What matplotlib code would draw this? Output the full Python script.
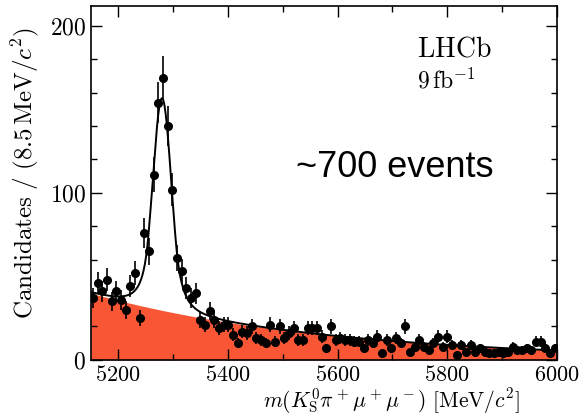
import numpy as np
import matplotlib
matplotlib.use('Agg')
import matplotlib.pyplot as plt
from matplotlib.ticker import MultipleLocator

plt.rcParams['mathtext.fontset'] = 'cm'
plt.rcParams['font.family'] = 'serif'
plt.rcParams['font.serif'] = ['cmr10']
plt.rcParams['axes.formatter.use_mathtext'] = True

# ---- data ----
mass_lo, mass_hi, bin_width = 5150.0, 6000.0, 8.5
counts = [37, 46, 41, 48, 35, 41, 36, 30, 44, 52,
          25, 76, 65, 111, 154, 169, 140, 102, 61, 53,
          43, 37, 40, 24, 21, 29, 24, 19, 21, 21,
          15, 10, 17, 16, 20, 13, 12, 10, 21, 11,
          20, 13, 16, 19, 12, 12, 19, 19, 19, 14,
          7, 20, 12, 13, 12, 12, 11, 11, 7, 12,
          10, 14, 4, 12, 7, 13, 10, 20, 5, 8,
          12, 8, 6, 10, 14, 8, 14, 9, 3, 9,
          5, 9, 5, 7, 5, 4, 4, 5, 4, 5,
          8, 6, 6, 7, 6, 11, 11, 7, 4, 7]

# fit model parameters (per-bin heights)
sig_height, sig_mean, sig_sigma, cb_alpha, cb_n = 127.0, 5280.0, 17.0, 1.5, 3.0
bkg_norm, bkg_slope = 40.0, -0.0023

x_ticks = [5200, 5400, 5600, 5800, 6000]
y_ticks = [0, 100, 200]

# ---- derived ----
counts = np.array(counts, dtype=float)
centers = mass_lo + bin_width * (np.arange(len(counts)) + 0.5)
errors = np.sqrt(counts)

m = np.linspace(mass_lo, mass_hi, 2000)

def cb2(x):
    t = (x - sig_mean) / sig_sigma
    a, n = cb_alpha, cb_n
    A = (n / a) ** n * np.exp(-a * a / 2)
    B = n / a - a
    core = np.exp(-t * t / 2)
    tail = A * (B + np.abs(t)) ** (-n)
    return sig_height * np.where(np.abs(t) < a, core, tail)

bkg = bkg_norm * np.exp(bkg_slope * (m - mass_lo))
total = bkg + cb2(m)

fig = plt.figure(figsize=(5.82, 4.18), dpi=100)
ax = fig.add_axes([0.156, 0.139, 0.801, 0.847])

ax.fill_between(m, 0, bkg, color='#F85634', lw=0, zorder=1)
ax.plot(m, total, color='black', lw=1.4, zorder=3)
ax.errorbar(centers, counts, yerr=errors, fmt='o', color='black',
            ms=5.5, elinewidth=1.2, capsize=0, zorder=4)

ax.set_xlim(mass_lo, mass_hi)
ax.set_ylim(0, 212)
ax.set_xticks(x_ticks)
ax.set_yticks(y_ticks)
ax.xaxis.set_minor_locator(MultipleLocator(100))
ax.yaxis.set_minor_locator(MultipleLocator(20))
ax.tick_params(which='both', direction='in', top=True, right=True, labelsize=16)
ax.tick_params(axis='y', labelsize=17)
ax.tick_params(which='major', length=8, width=1)
ax.tick_params(which='minor', length=4, width=1)
ax.tick_params(axis='x', pad=4)
for s in ax.spines.values():
    s.set_linewidth(1.2)

ax.text(0.92, -0.134, r'$m(K^0_{\rm S}\pi^+\mu^+\mu^-)\ [\mathrm{MeV}/c^2]$',
        transform=ax.transAxes, ha='right', va='baseline', fontsize=15.5)
ax.text(-0.14, 0.94, r'$\mathrm{Candidates}\ /\ (8.5\,\mathrm{MeV}/c^2)$',
        transform=ax.transAxes, ha='center', va='top', rotation=90, fontsize=18)

ax.text(0.70, 0.856, r'$\mathrm{LHCb}$', transform=ax.transAxes,
        fontsize=20, ha='left', va='baseline')
ax.text(0.70, 0.768, r'$9\,\mathrm{fb}^{-1}$', transform=ax.transAxes,
        fontsize=17, ha='left', va='baseline')
ax.text(0.44, 0.517, '~700 events', transform=ax.transAxes,
        fontsize=26, ha='left', va='baseline', family='Liberation Sans')

fig.savefig('out.png', dpi=100)
